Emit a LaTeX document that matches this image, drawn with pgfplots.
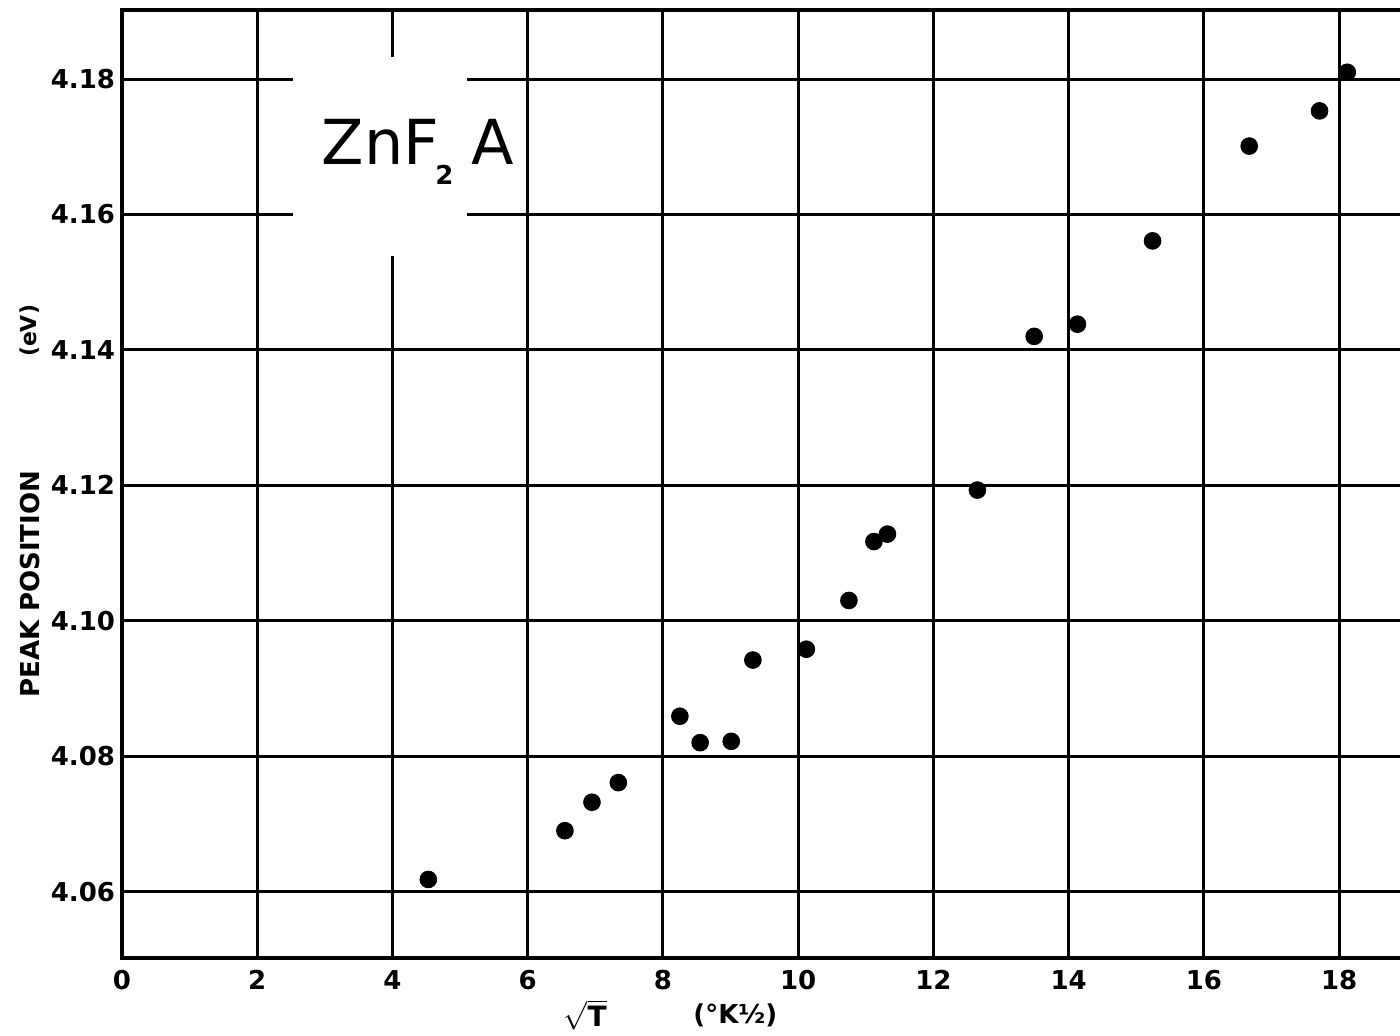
\documentclass[border=0pt]{standalone}
\usepackage{fontspec}
\setmainfont{DejaVu Sans}
\usepackage{pgfplots}
\pgfplotsset{compat=1.18}

% peak position of the ZnF2 A band against sqrt(T)
\pgfplotstableread{
x      y
4.53   4.0618
6.55   4.0690
6.95   4.0732
7.34   4.0761
8.25   4.0859
8.55   4.0820
9.01   4.0822
9.33   4.0942
10.12  4.0958
10.75  4.1030
11.12  4.1117
11.32  4.1128
12.65  4.1193
13.49  4.1420
14.13  4.1438
15.24  4.1561
16.67  4.1701
17.71  4.1753
18.12  4.1810
}\peakdata

\begin{document}
\begin{tikzpicture}
\begin{axis}[
  scale only axis, width=639pt, height=474pt,
  xmin=0, xmax=18.9, ymin=4.0502, ymax=4.1902,
  xtick={0,2,4,6,8,10,12,14,16,18},
  ytick={4.06,4.08,4.10,4.12,4.14,4.16,4.18},
  /pgf/number format/assume math mode=true,
  yticklabel style={/pgf/number format/.cd, fixed, fixed zerofill, precision=2},
  tick label style={font=\fontsize{13}{13}\selectfont\bfseries},
  xticklabel style={anchor=center, yshift=-11pt},
  major tick length=0pt,
  grid=major,
  major grid style={black, line width=1.5pt},
  axis line style={draw=none},
  clip=false,
]
% label panel cut out of the grid
\fill[white] (axis cs:2.53,4.1833) rectangle (axis cs:5.10,4.1538);
\node[anchor=base west, inner sep=0pt, font=\fontsize{31}{31}\selectfont]
  at (axis cs:2.95,4.1674)
  {ZnF\kern-2pt\raisebox{-10pt}{\fontsize{13}{13}\selectfont\bfseries 2}\hspace{9pt}A};

% frame: left, bottom, top
\draw[line width=1.8pt] (rel axis cs:1,1) -- (rel axis cs:0,1) -- (rel axis cs:0,0) -- (rel axis cs:1,0);

\addplot[only marks, mark=*, mark size=4.2pt, black] table[x=x, y=y] {\peakdata};

% axis titles
\node[rotate=90, font=\fontsize{13}{13}\selectfont\bfseries]
  at ([xshift=-46pt]axis cs:0,4.1054) {PEAK POSITION};
\node[rotate=90, font=\fontsize{11}{11}\selectfont\bfseries]
  at ([xshift=-46pt]axis cs:0,4.1428) {(eV)};
\node[font=\fontsize{14}{14}\selectfont\bfseries]
  at ([yshift=-28.5pt]axis cs:6.85,4.0502) {$\sqrt{\hbox{\bfseries T}}$};
\node[font=\fontsize{13}{13}\selectfont\bfseries]
  at ([yshift=-28.5pt]axis cs:9.07,4.0502) {(°K½)};

\coordinate (O) at (rel axis cs:0,0);
\coordinate (TR) at (rel axis cs:1,1);
\end{axis}
\pgfresetboundingbox
\path[use as bounding box] ([shift={(-61pt,-39pt)}]O) rectangle ([yshift=5pt]TR);
\end{tikzpicture}
\end{document}
